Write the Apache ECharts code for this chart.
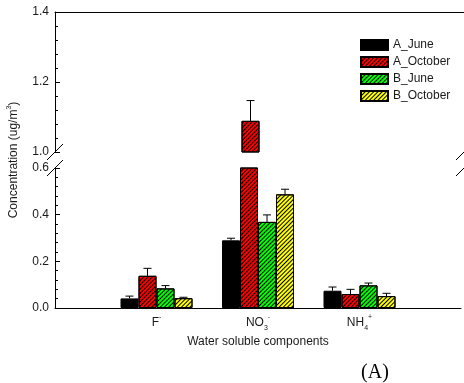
<!DOCTYPE html>
<html><head><meta charset="utf-8">
<script src="https://cdn.jsdelivr.net/npm/echarts@6/dist/echarts.min.js"></script>
<style>html,body{margin:0;padding:0;background:#fff}#c{width:464px;height:383px}</style>
</head><body><div id="c"></div>
<script>
// ---- data ----
const categories = ['', 'F-', 'NO3-', 'NH4+', ''];
const seriesNames = ['A_June', 'A_October', 'B_June', 'B_October'];
const A_June      = [null, 0.041, 0.290, 0.074, null];
const A_October   = [null, 0.138, 1.089, 0.060, null];
const B_June      = [null, 0.084, 0.369, 0.097, null];
const B_October   = [null, 0.042, 0.487, 0.051, null];
const A_June_err    = [null, 0.010, 0.009, 0.016, null];
const A_October_err = [null, 0.032, 0.058, 0.020, null];
const B_June_err    = [null, 0.012, 0.030, 0.010, null];
const B_October_err = [null, 0.004, 0.022, 0.012, null];
const upperRange = [1.0, 1.4];   // upper panel min, max
const lowerRange = [0.0, 0.6];   // lower panel min, max
const tickStep = 0.2;

const values = [A_June, A_October, B_June, B_October];
const errors = [A_June_err, A_October_err, B_June_err, B_October_err];
const colors = ['#000000', '#ff0000', '#00ff00', '#ffff00'];
const BAR_W = 18;

const chart = echarts.init(document.getElementById('c'), null, {renderer: 'canvas'});
const FONT = 'Liberation Sans, Arial, sans-serif';
const TXT = '#1a1a1a';

const labelMap = {
  'F-': '{n|F}{sup|-}',
  'NO3-': '{n|NO}{sub|3}{sup|-}',
  'NH4+': '{n|NH}{sub|4}{sup|+}'
};
const rich = {
  n: {fontSize: 12, fontFamily: FONT, color: TXT, lineHeight: 18, verticalAlign: 'middle'},
  sup: {fontSize: 7, fontFamily: FONT, color: TXT, lineHeight: 9, verticalAlign: 'top'},
  sub: {fontSize: 7, fontFamily: FONT, color: TXT, lineHeight: 9, verticalAlign: 'bottom'}
};

function decalFor(k) {
  if (k === 0) return null;
  return {symbol: 'rect', symbolSize: 1, color: '#000', dashArrayX: [1, 0], dashArrayY: [1, 1.5], rotation: -Math.PI / 4};
}

const grids = [
  {left: 55, right: -3, top: 12, height: 140},
  {left: 55, right: -3, top: 168, height: 140}
];

const axisLineStyle = {show: true, lineStyle: {color: '#000', width: 1}};
const xAxes = [
  {gridIndex: 0, type: 'category', data: categories, boundaryGap: false, position: 'top',
   axisLine: axisLineStyle, axisTick: {show: false}, axisLabel: {show: false}, splitLine: {show: false}},
  {gridIndex: 1, type: 'category', data: categories, boundaryGap: false, position: 'bottom',
   axisLine: axisLineStyle, axisTick: {show: false}, splitLine: {show: false},
   axisLabel: {show: true, margin: 6, interval: 0, formatter: v => labelMap[v] || '', rich: rich},
   name: 'Water soluble components', nameLocation: 'middle', nameGap: 28,
   nameTextStyle: {fontSize: 12, fontFamily: FONT, color: TXT}}
];
function yAxis(g, range) {
  return {gridIndex: g, type: 'value', min: range[0], max: range[1], interval: tickStep,
    axisLine: axisLineStyle,
    axisTick: {show: true, inside: true, length: 5, lineStyle: {color: '#000'}},
    minorTick: {show: true, splitNumber: 5, length: 3, lineStyle: {color: '#000'}},
    splitLine: {show: false}, minorSplitLine: {show: false},
    axisLabel: {margin: 6, fontSize: 12, fontFamily: FONT, color: TXT, formatter: v => v.toFixed(1)}};
}
const yAxes = [yAxis(0, upperRange), yAxis(1, lowerRange)];

const series = [];
for (let g = 0; g < 2; g++) {
  for (let k = 0; k < 4; k++) {
    series.push({
      type: 'bar', name: seriesNames[k], xAxisIndex: g, yAxisIndex: g,
      data: values[k], barWidth: BAR_W, barGap: '0%', clip: true,
      itemStyle: {color: colors[k], borderColor: '#000', borderWidth: 1, decal: decalFor(k)},
      emphasis: {disabled: true}
    });
  }
}
for (let g = 0; g < 2; g++) {
  for (let k = 0; k < 4; k++) {
    const d = [];
    for (let i = 0; i < categories.length; i++) {
      if (values[k][i] != null) d.push([i, values[k][i], errors[k][i]]);
    }
    series.push({
      type: 'custom', name: 'err' + g + k, xAxisIndex: g, yAxisIndex: g, clip: true,
      data: d, z: 5,
      renderItem: (params, api) => {
        const c = api.value(0), v = api.value(1), e = api.value(2);
        const p0 = api.coord([c, v]);
        const p1 = api.coord([c, v + e]);
        const x = p0[0] + (k - 1.5) * BAR_W;
        const cap = 4;
        return {type: 'group', children: [
          {type: 'line', shape: {x1: x, y1: p0[1], x2: x, y2: p1[1]}, style: {stroke: '#000', lineWidth: 1}},
          {type: 'line', shape: {x1: x - cap, y1: p1[1], x2: x + cap, y2: p1[1]}, style: {stroke: '#000', lineWidth: 1}}
        ]};
      }
    });
  }
}

chart.setOption({
  backgroundColor: '#fff',
  animation: false,
  grid: grids,
  xAxis: xAxes,
  yAxis: yAxes,
  legend: {data: seriesNames, orient: 'vertical', left: 355, top: 34, itemWidth: 27, itemHeight: 10,
    itemGap: 5, icon: 'rect', selectedMode: false,
    textStyle: {fontSize: 12, fontFamily: FONT, color: TXT}},
  series: series
});

// break marks and free texts
const xLeft = chart.convertToPixel({xAxisIndex: 0}, 0);
const xRight = chart.convertToPixel({xAxisIndex: 0}, categories.length - 1);
const yUp = chart.convertToPixel({yAxisIndex: 0}, upperRange[0]);
const yLo = chart.convertToPixel({yAxisIndex: 1}, lowerRange[1]);
const yTop = chart.convertToPixel({yAxisIndex: 0}, upperRange[1]);
const yBot = chart.convertToPixel({yAxisIndex: 1}, lowerRange[0]);
const s = 8;
function slash(x, y) {
  return {type: 'line', shape: {x1: x - s, y1: y + s, x2: x + s, y2: y - s}, style: {stroke: '#000', lineWidth: 1}, z: 10};
}
chart.setOption({
  graphic: [
    slash(xLeft, yUp), slash(xLeft, yLo), slash(xRight, yUp), slash(xRight, yLo),
    {type: 'text', x: 14, y: (yTop + yBot) / 2, rotation: Math.PI / 2, z: 10,
     style: {text: '{n|Concentration (ug/m}{sup|3}{n|)}', align: 'center', verticalAlign: 'middle',
       rich: {n: {fontSize: 12, fontFamily: FONT, fill: TXT, lineHeight: 16, verticalAlign: 'middle'},
              sup: {fontSize: 7, fontFamily: FONT, fill: TXT, lineHeight: 8, verticalAlign: 'top'}}}},
    {type: 'text', x: 375, y: 373, z: 10,
     style: {text: '(A)', align: 'center', verticalAlign: 'middle', fontSize: 20,
       fontFamily: 'Liberation Serif, Times New Roman, serif', fill: '#000'}}
  ]
});
</script></body></html>
